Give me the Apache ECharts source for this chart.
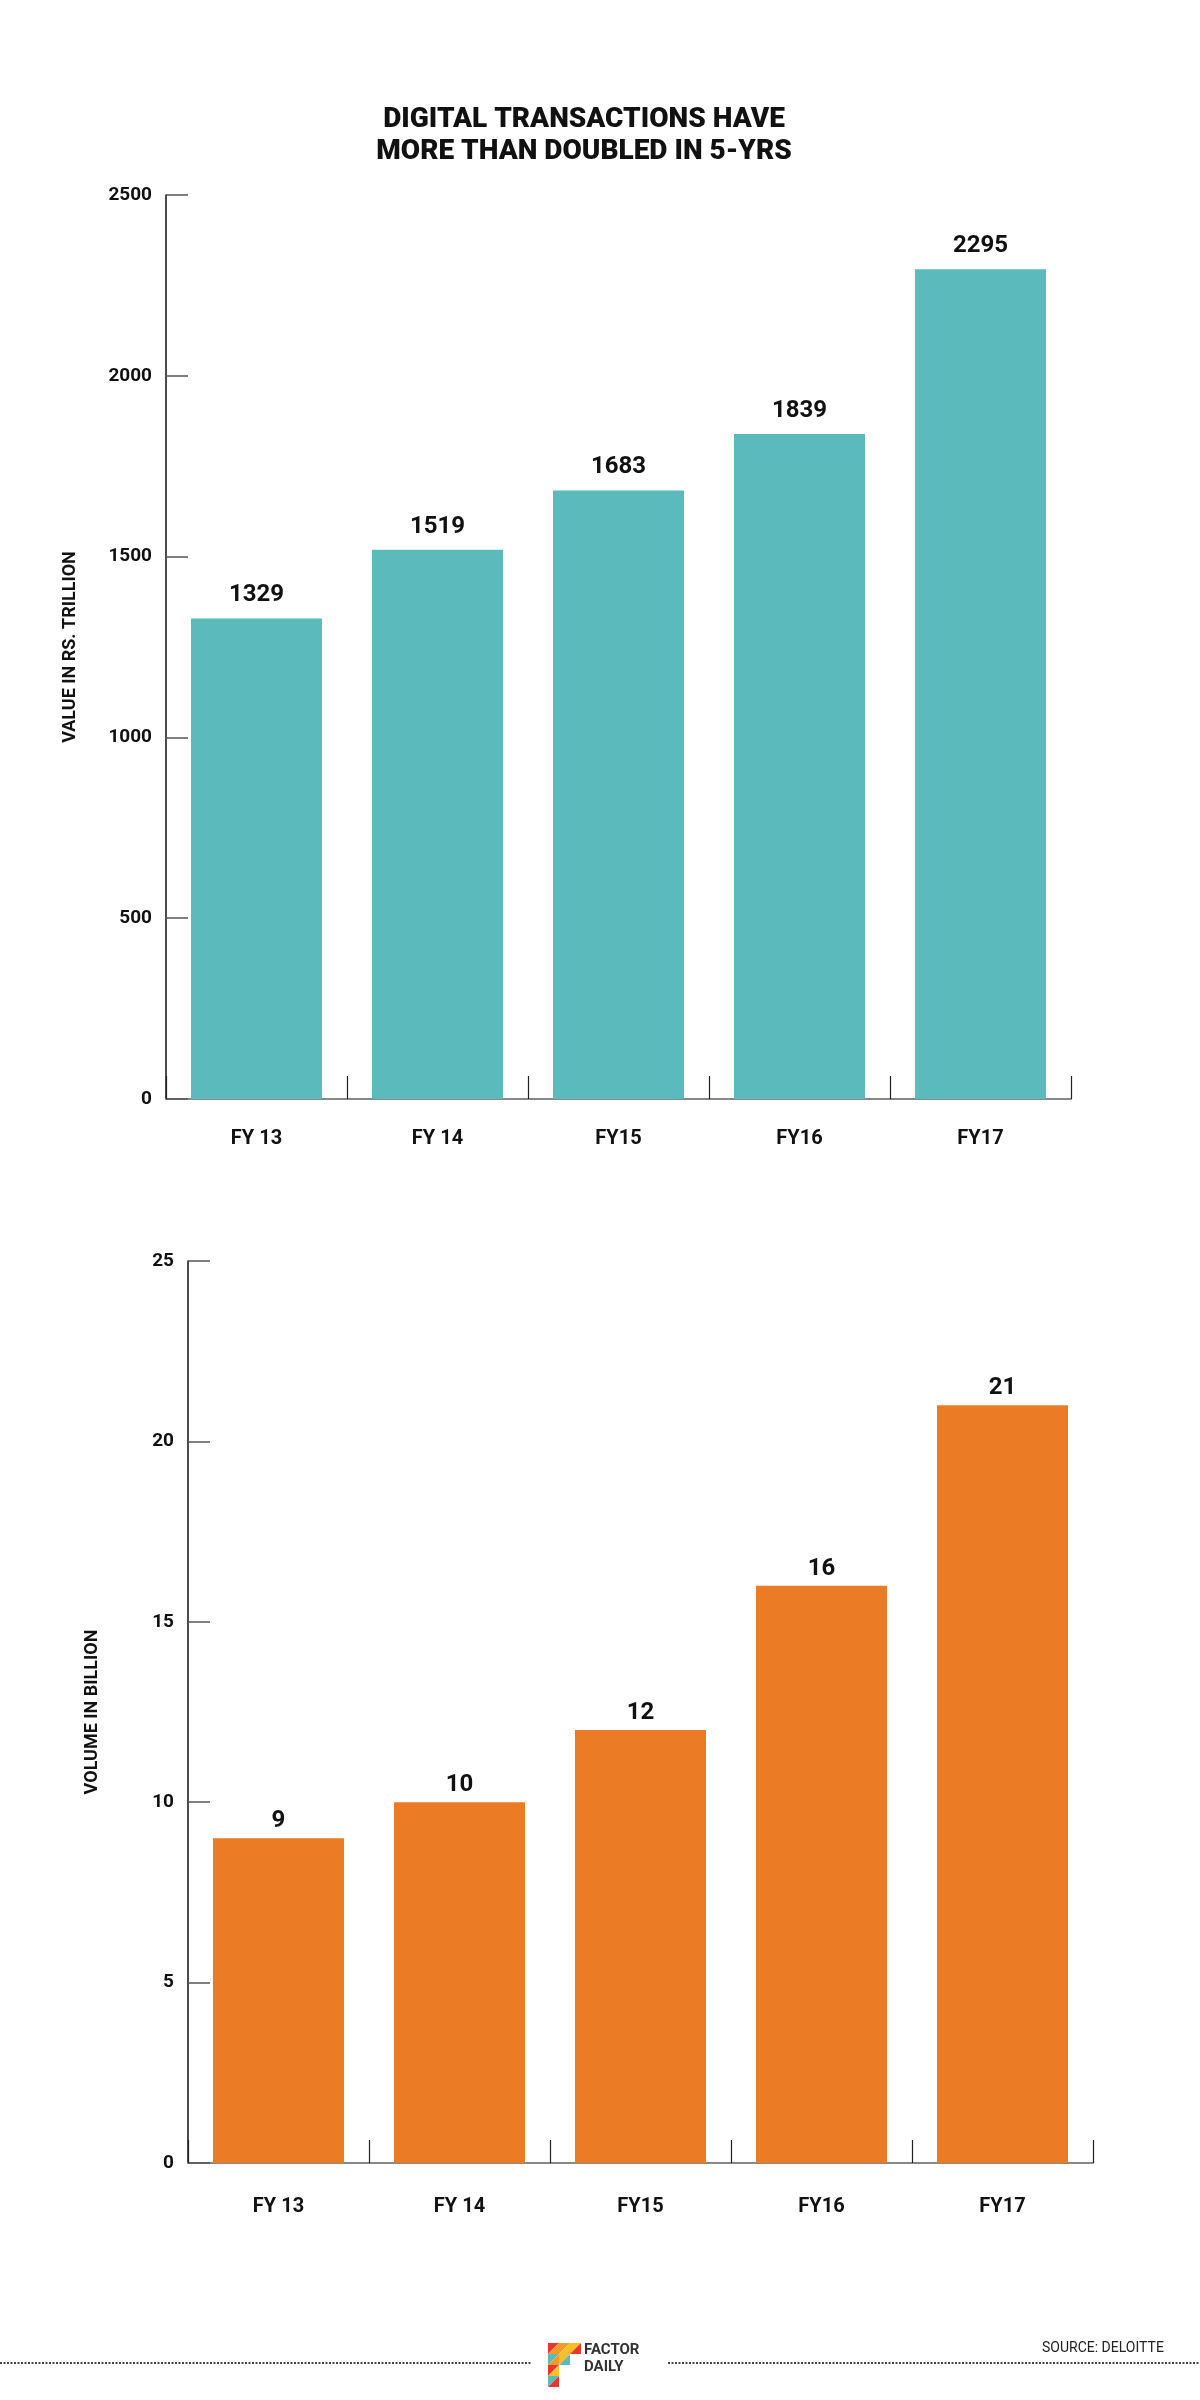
<!DOCTYPE html>
<html>
<head>
<meta charset="utf-8">
<script src="https://cdn.jsdelivr.net/npm/echarts@6/dist/echarts.min.js"></script>
<style>
html,body{margin:0;padding:0;background:#fff;}
#chart{width:1200px;height:2400px;}
</style>
</head>
<body>
<div id="chart"></div>
<script>
const categories = ['FY 13', 'FY 14', 'FY15', 'FY16', 'FY17'];
const valueTrillion = [1329, 1519, 1683, 1839, 2295];
const volumeBillion = [9, 10, 12, 16, 21];
const valueTicks = {min: 0, max: 2500, interval: 500};
const volumeTicks = {min: 0, max: 25, interval: 5};

const TEAL = '#5bbbbc';
const ORANGE = '#eb7c25';
const FONT = 'Roboto';

function yAxis(gridIndex, ticks, name) {
  return {
    type: 'value', gridIndex: gridIndex,
    min: ticks.min, max: ticks.max, interval: ticks.interval,
    name: name, nameLocation: 'middle', nameRotate: 90, nameGap: 87,
    nameTextStyle: {fontFamily: FONT, fontWeight: 'bold', fontSize: 18, color: '#111'},
    axisLine: {show: true, lineStyle: {color: '#111', width: 1.5}},
    axisTick: {show: true, inside: true, length: 22, lineStyle: {color: '#555', width: 1.5}},
    splitLine: {show: false},
    axisLabel: {fontFamily: FONT, fontWeight: 'bold', fontSize: 19, color: '#111', margin: 14,
      verticalAlign: 'middle', padding: [18, 0, 0, 0],
      formatter: function (v) { return String(v); }}
  };
}
function xAxis(gridIndex, margin) {
  return {
    type: 'category', gridIndex: gridIndex, data: categories,
    axisLine: {show: true, lineStyle: {color: '#888', width: 2}},
    axisTick: {show: true, inside: true, length: 23, alignWithLabel: false, lineStyle: {color: '#222', width: 1.2}},
    axisLabel: {fontFamily: FONT, fontWeight: 'bold', fontSize: 20, color: '#111', margin: margin},
    splitLine: {show: false}
  };
}
function barSeries(idx, data, color, dist) {
  return {
    type: 'bar', xAxisIndex: idx, yAxisIndex: idx, data: data,
    barCategoryGap: '27.6%',
    itemStyle: {color: color},
    label: {show: true, position: 'top', distance: dist, fontFamily: FONT, fontWeight: 'bold', fontSize: 24, color: '#111'}
  };
}

// logo triangles (decoration)
const logoColors = ['#e8372f', '#f39a2b', '#fbbd2a', '#5bbbbc'];
const logoCells = [
  [548, 2343, 0, 1], [559, 2343, 1, 2], [570, 2343, 2, 0],
  [548, 2354, 3, 1], [559, 2354, 2, 3],
  [548, 2365, 0, 2], [548, 2376, 3, 0]
];
const logoGraphics = [];
logoCells.forEach(function (c) {
  const x = c[0], y = c[1], s = 11;
  logoGraphics.push({type: 'polygon', shape: {points: [[x, y], [x + s, y], [x, y + s]]}, style: {fill: logoColors[c[2]]}});
  logoGraphics.push({type: 'polygon', shape: {points: [[x + s, y], [x + s, y + s], [x, y + s]]}, style: {fill: logoColors[c[3]]}});
});

const chart = echarts.init(document.getElementById('chart'), null, {renderer: 'canvas'});
chart.setOption({
  backgroundColor: '#ffffff',
  animation: false,
  grid: [
    {left: 166, top: 195, width: 905, height: 904},
    {left: 188, top: 1261, width: 905, height: 902}
  ],
  xAxis: [xAxis(0, 30), xAxis(1, 34)],
  yAxis: [yAxis(0, valueTicks, 'VALUE IN RS. TRILLION'), yAxis(1, volumeTicks, 'VOLUME IN BILLION')],
  series: [barSeries(0, valueTrillion, TEAL, 11), barSeries(1, volumeBillion, ORANGE, 5)],
  graphic: [
    {type: 'text', x: 584, y: 104, style: {text: 'DIGITAL TRANSACTIONS HAVE\nMORE THAN DOUBLED IN 5-YRS',
      align: 'center', verticalAlign: 'top', fontFamily: FONT, fontWeight: 900, fontSize: 28, lineHeight: 32, fill: '#111'}},
    {type: 'line', shape: {x1: 0, y1: 2363, x2: 532, y2: 2363}, style: {stroke: '#444', lineWidth: 2, lineDash: [2, 1.5]}},
    {type: 'line', shape: {x1: 668, y1: 2363, x2: 1200, y2: 2363}, style: {stroke: '#444', lineWidth: 2, lineDash: [2, 1.5]}},
    {type: 'text', left: 584, top: 2342, style: {text: 'FACTOR\nDAILY', fontFamily: FONT, fontWeight: 'bold', fontSize: 15, lineHeight: 17, fill: '#333'}},
    {type: 'text', left: 1042, top: 2341, style: {text: 'SOURCE: DELOITTE', fontFamily: FONT, fontSize: 14, fill: '#222'}}
  ].concat(logoGraphics)
});
</script>
</body>
</html>
